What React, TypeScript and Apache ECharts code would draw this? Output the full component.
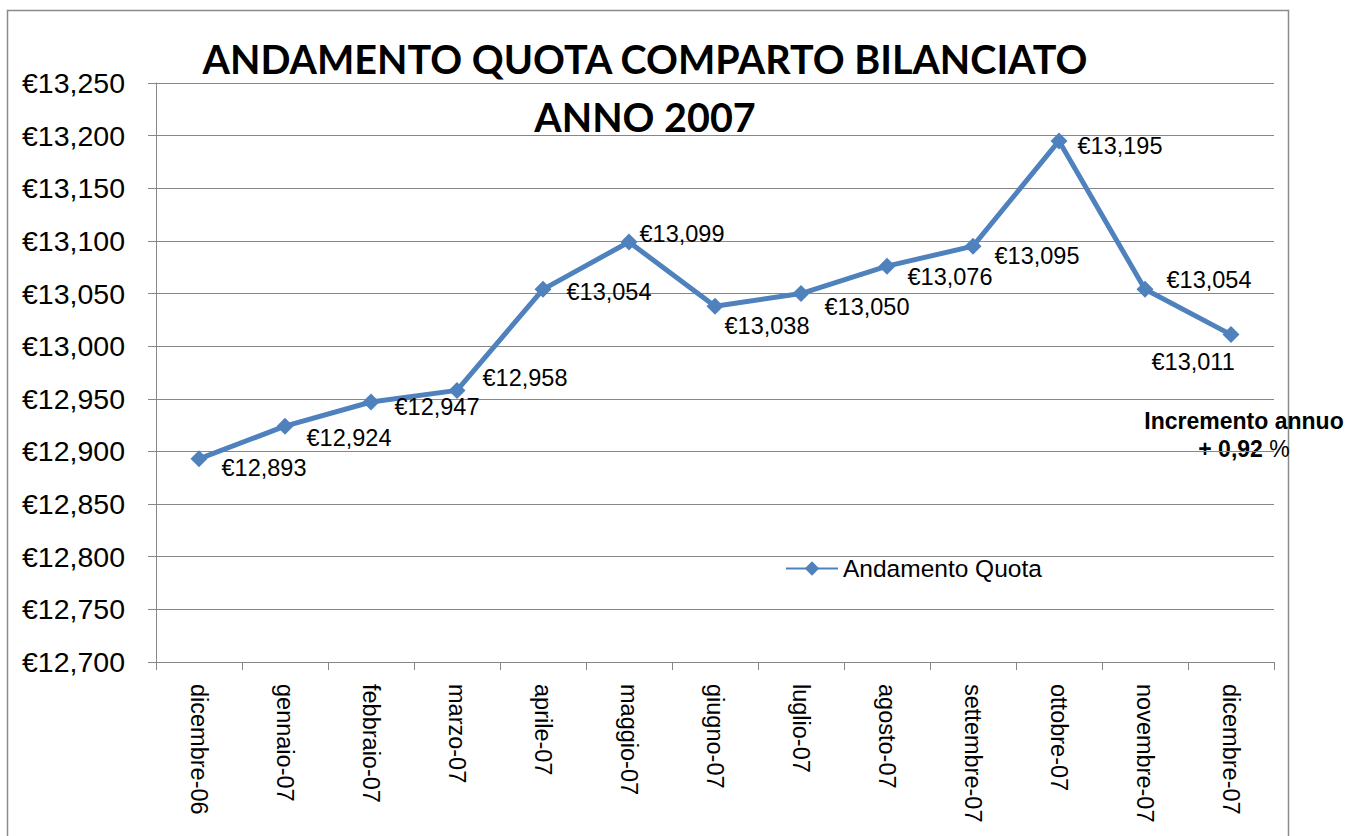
import React, { useEffect, useRef } from "react";
import * as echarts from "echarts";

const categories = [
  "dicembre-06", "gennaio-07", "febbraio-07", "marzo-07", "aprile-07", "maggio-07",
  "giugno-07", "luglio-07", "agosto-07", "settembre-07", "ottobre-07", "novembre-07", "dicembre-07",
];
const quotaValues = [12893, 12924, 12947, 12958, 13054, 13099, 13038, 13050, 13076, 13095, 13195, 13054, 13011];
const seriesName = "Andamento Quota";
const titleLines = ["ANDAMENTO QUOTA COMPARTO BILANCIATO", "ANNO 2007"];
const noteLine1 = "Incremento annuo";
const noteValue = "+ 0,92 ";
const noteUnit = "%";
const yMin = 12700;
const yMax = 13250;
const yStep = 50;

// label placement (style only)
const labelOffsets = [
  [31, 18], [30, 20], [32, 14], [34, -4], [32, 11], [19, 1], [18, 28],
  [32, 22], [29, 19], [30, 18], [27, 14], [30, -1], [-71, 36],
];

const fmt = (v: number) => "€" + v.toLocaleString("en-US");
const FONT = "'Liberation Sans', Arial, sans-serif";
const BLUE = "#4F81BD";
const GRID = "#878787";

export default function App() {
  const ref = useRef<HTMLDivElement>(null);
  useEffect(() => {
    if (!ref.current) return;
    const chart = echarts.init(ref.current, null, { renderer: "svg" });
    chart.setOption({
      animation: false,
      backgroundColor: "#ffffff",
      textStyle: { fontFamily: FONT },
      grid: { left: 156, right: 77, top: 83, bottom: 174, containLabel: false },
      legend: {
        left: 785,
        top: 556,
        padding: 0,
        data: [seriesName],
        itemWidth: 52,
        itemHeight: 18,
        itemGap: 4,
        textStyle: { fontSize: 24.5, color: "#000", fontFamily: FONT, padding: [0, 0, 0, 0] },
      },
      xAxis: {
        type: "category",
        data: categories,
        boundaryGap: true,
        axisLine: { lineStyle: { color: GRID, width: 1 } },
        axisTick: { show: true, length: 8, inside: false, lineStyle: { color: GRID } },
        axisLabel: {
          rotate: -90,
          margin: 22,
          fontSize: 23.5,
          color: "#000",
          fontFamily: FONT,
          interval: 0,
        },
        splitLine: { show: false },
      },
      yAxis: {
        type: "value",
        min: yMin,
        max: yMax,
        interval: yStep,
        axisLine: { show: true, lineStyle: { color: GRID, width: 1 } },
        axisTick: { show: true, length: 8, lineStyle: { color: GRID } },
        axisLabel: {
          margin: 31,
          fontSize: 28.5,
          color: "#000",
          fontFamily: FONT,
          formatter: (v: number) => fmt(v),
        },
        splitLine: { show: true, lineStyle: { color: GRID, width: 1 } },
      },
      series: [
        {
          name: seriesName,
          type: "line",
          data: quotaValues.map((v, i) => ({
            value: v,
            label: {
              position: labelOffsets[i],
            },
          })),
          symbol: "diamond",
          symbolSize: 17,
          lineStyle: { color: BLUE, width: 5 },
          itemStyle: { color: BLUE },
          label: {
            show: true,
            fontSize: 23.5,
            color: "#000",
            fontFamily: FONT,
            align: "left",
            verticalAlign: "middle",
            formatter: (p: any) => fmt(p.value),
          },
        },
      ],
      graphic: [
        {
          type: "rect",
          shape: { x: 7.5, y: 10.5, width: 1281, height: 900 },
          style: { fill: "none", stroke: "#8a8a8a", lineWidth: 1.5 },
          z: -10,
          silent: true,
        },
        {
          type: "text",
          x: 645,
          y: 58,
          style: {
            text: titleLines[0],
            font: "bold 39.5px Lato, 'Open Sans', sans-serif",
            fill: "#000",
            textAlign: "center",
            textVerticalAlign: "middle",
          },
        },
        {
          type: "text",
          x: 645,
          y: 116,
          style: {
            text: titleLines[1],
            font: "bold 39.5px Lato, 'Open Sans', sans-serif",
            fill: "#000",
            textAlign: "center",
            textVerticalAlign: "middle",
          },
        },
        {
          type: "text",
          x: 1244,
          y: 421,
          style: {
            text: noteLine1,
            font: "bold 23px 'Liberation Sans', Arial, sans-serif",
            fill: "#000",
            textAlign: "center",
            textVerticalAlign: "middle",
          },
        },
        {
          type: "text",
          x: 1244,
          y: 449,
          style: {
            text: "{b|" + noteValue + "}{n|" + noteUnit + "}",
            rich: {
              b: { font: "bold 23px 'Liberation Sans', Arial, sans-serif", fill: "#000" },
              n: { font: "23px 'Liberation Sans', Arial, sans-serif", fill: "#000" },
            },
            textAlign: "center",
            textVerticalAlign: "middle",
          },
        },
      ],
    });
    return () => chart.dispose();
  }, []);
  return (
    <div
      ref={ref}
      style={{ position: "fixed", left: 0, top: 0, width: 1351, height: 836, background: "#fff" }}
    />
  );
}
